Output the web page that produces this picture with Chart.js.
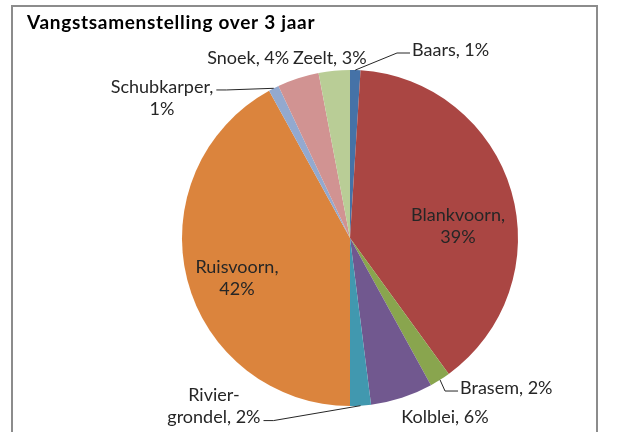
<!DOCTYPE html>
<html>
<head>
<meta charset="utf-8">
<script src="https://cdn.jsdelivr.net/npm/chart.js@4/dist/chart.umd.min.js"></script>
<style>
  html, body { margin: 0; padding: 0; background: #fff; }
  #wrap { position: relative; width: 619px; height: 432px; }
</style>
</head>
<body>
<div id="wrap"><canvas id="vangst"></canvas></div>
<script>
// Vangst per soort (aandeel in %)
const categories = ['Baars', 'Blankvoorn', 'Brasem', 'Kolblei', 'Rivier-grondel', 'Ruisvoorn', 'Schubkarper', 'Snoek', 'Zeelt'];
const shares = [1, 39, 2, 6, 2, 42, 1, 4, 3];
const sliceColors = ['#4572A7', '#AA4643', '#89A54E', '#71588F', '#4198AF', '#DB843D', '#93A9CF', '#D19392', '#B9CD96'];
const chartTitle = 'Vangstsamenstelling over 3 jaar';

// label plaatsing t.o.v. het middelpunt, in eenheden van de straal
const labelLayout = [
  { x: 0.369, y: -1.119, align: 'left', leader: { line: 0, side: 'left' } },
  { x: 0.643, y: -0.137, align: 'center', wrap: 100 },
  { x: 0.655, y: 0.893, align: 'left', leader: { line: 0, side: 'left' } },
  { x: 0.565, y: 1.065, align: 'center' },
  { x: -0.81, y: 0.935, align: 'center', wrap: 100, leader: { line: 1, side: 'right' } },
  { x: -0.673, y: 0.173, align: 'center', wrap: 100 },
  { x: -1.119, y: -0.899, align: 'center', wrap: 105, leader: { line: 0, side: 'right' } },
  { x: -0.606, y: -1.071, align: 'center' },
  { x: -0.12, y: -1.071, align: 'center' }
];

const FONT = '18px Lato';
const LINE_H = 22.5;

function wrapText(ctx, text, maxW) {
  if (!maxW) return [text];
  const tokens = text.match(/[^\s-]+-?\s*/g) || [text];
  const lines = [];
  let cur = '';
  tokens.forEach(t => {
    if (cur && ctx.measureText((cur + t).trim()).width > maxW) {
      lines.push(cur.trim());
      cur = t;
    } else {
      cur += t;
    }
  });
  if (cur) lines.push(cur.trim());
  return lines;
}

const frameAndTitle = {
  id: 'frameAndTitle',
  beforeDraw(chart) {
    const ctx = chart.ctx;
    ctx.save();
    ctx.fillStyle = '#fff';
    ctx.fillRect(0, 0, chart.width, chart.height);
    ctx.strokeStyle = '#8c8c8c';
    ctx.lineWidth = 2;
    ctx.strokeRect(12, 6, 585, 460);
    ctx.fillStyle = '#000';
    ctx.font = 'bold 19px Lato';
    ctx.letterSpacing = '0.7px';
    ctx.textBaseline = 'alphabetic';
    ctx.fillText(chartTitle, 27, 29);
    ctx.restore();
  }
};

const sliceLabels = {
  id: 'sliceLabels',
  afterDatasetsDraw(chart) {
    const ctx = chart.ctx;
    const meta = chart.getDatasetMeta(0);
    const data = chart.data.datasets[0].data;
    const total = data.reduce((a, b) => a + b, 0);
    ctx.save();
    ctx.font = FONT;
    ctx.textBaseline = 'middle';
    meta.data.forEach((arc, i) => {
      const p = arc.getProps(['x', 'y', 'startAngle', 'endAngle', 'outerRadius'], true);
      const lay = labelLayout[i];
      const text = chart.data.labels[i] + ', ' + Math.round(data[i] / total * 100) + '%';
      const lines = wrapText(ctx, text, lay.wrap);
      const tx = p.x + lay.x * p.outerRadius;
      const ty = p.y + lay.y * p.outerRadius;

      if (lay.leader) {
        const mid = (p.startAngle + p.endAngle) / 2;
        const sx = p.x + Math.cos(mid) * p.outerRadius;
        const sy = p.y + Math.sin(mid) * p.outerRadius;
        const ln = lines[lay.leader.line];
        const w = ctx.measureText(ln).width;
        let left = tx;
        if (lay.align === 'center') left = tx - w / 2;
        else if (lay.align === 'right') left = tx - w;
        const ly = ty + lay.leader.line * LINE_H + 3;
        const ex = lay.leader.side === 'left' ? left - 2 : left + w + 3;
        const bx = lay.leader.side === 'left' ? ex - 13 : ex + 10;
        ctx.strokeStyle = '#262626';
        ctx.lineWidth = 1;
        ctx.beginPath();
        ctx.moveTo(sx, sy);
        ctx.lineTo(bx, ly);
        ctx.lineTo(ex, ly);
        ctx.stroke();
      }

      ctx.fillStyle = '#262626';
      ctx.textAlign = lay.align;
      lines.forEach((ln, k) => ctx.fillText(ln, tx, ty + k * LINE_H));
    });
    ctx.restore();
  }
};

new Chart(document.getElementById('vangst'), {
  type: 'pie',
  data: {
    labels: categories,
    datasets: [{
      data: shares,
      backgroundColor: sliceColors,
      borderWidth: 0
    }]
  },
  options: {
    responsive: true,
    maintainAspectRatio: false,
    animation: false,
    layout: { padding: { left: 182, right: 101, top: 70, bottom: 26 } },
    plugins: {
      legend: { display: false },
      tooltip: { enabled: false },
      title: { display: false }
    }
  },
  plugins: [frameAndTitle, sliceLabels]
});
</script>
</body>
</html>
